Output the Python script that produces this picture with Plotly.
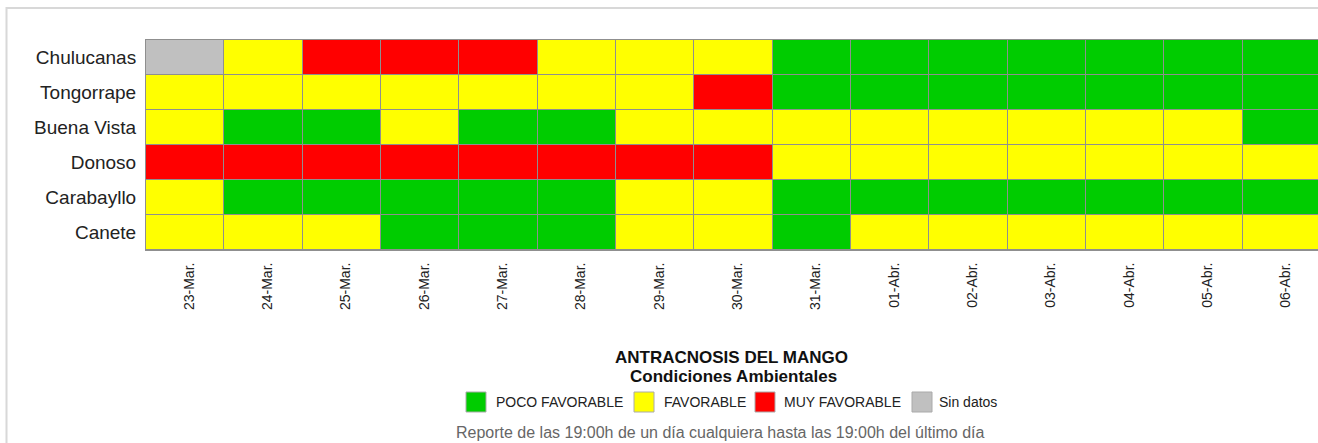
import plotly.graph_objects as go

# ---- data ----
stations = ["Chulucanas", "Tongorrape", "Buena Vista", "Donoso", "Carabayllo", "Canete"]
dates = ["23-Mar.", "24-Mar.", "25-Mar.", "26-Mar.", "27-Mar.", "28-Mar.", "29-Mar.", "30-Mar.",
         "31-Mar.", "01-Abr.", "02-Abr.", "03-Abr.", "04-Abr.", "05-Abr.", "06-Abr."]
# 0 = POCO FAVORABLE, 1 = FAVORABLE, 2 = MUY FAVORABLE, 3 = Sin datos
chulucanas  = [3, 1, 2, 2, 2, 1, 1, 1, 0, 0, 0, 0, 0, 0, 0]
tongorrape  = [1, 1, 1, 1, 1, 1, 1, 2, 0, 0, 0, 0, 0, 0, 0]
buena_vista = [1, 0, 0, 1, 0, 0, 1, 1, 1, 1, 1, 1, 1, 1, 0]
donoso      = [2, 2, 2, 2, 2, 2, 2, 2, 1, 1, 1, 1, 1, 1, 1]
carabayllo  = [1, 0, 0, 0, 0, 0, 1, 1, 0, 0, 0, 0, 0, 0, 0]
canete      = [1, 1, 1, 0, 0, 0, 1, 1, 0, 1, 1, 1, 1, 1, 1]
categories = ["POCO FAVORABLE", "FAVORABLE", "MUY FAVORABLE", "Sin datos"]
cat_colors = ["#00CC00", "#FFFF00", "#FF0000", "#C0C0C0"]
title_lines = ["ANTRACNOSIS DEL MANGO", "Condiciones Ambientales"]
footer = "Reporte de las 19:00h de un día cualquiera hasta las 19:00h del último día"

z = [chulucanas, tongorrape, buena_vista, donoso, carabayllo, canete]

# ---- layout geometry (pixels) ----
W, H = 1318, 443
L, T, B = 146, 40, 193
R = 0
PW = W - L - R
PH = H - T - B

def px(x):
    return (x - L) / PW

def py(y):
    return (H - B - y) / PH

n = len(categories)
cs = []
for i, c in enumerate(cat_colors):
    cs.append([i / n, c])
    cs.append([(i + 1) / n, c])

fig = go.Figure()
fig.add_trace(go.Heatmap(
    z=z,
    x=list(range(len(dates))),
    y=list(range(len(stations))),
    colorscale=cs, zmin=-0.5, zmax=n - 0.5,
    showscale=False, xgap=1, ygap=1, hoverinfo="skip",
))

col_w = 78.33
x_end = -0.5 + PW / col_w

shapes = []
annotations = []
# outer frame
shapes.append(dict(type="rect", xref="paper", yref="paper",
                   x0=px(6.5), x1=px(1330), y0=py(460), y1=py(8),
                   line=dict(color="#d8d8d8", width=2), fillcolor="rgba(0,0,0,0)", layer="below"))

# titles
annotations.append(dict(xref="paper", yref="paper", x=px(731), y=py(357), text="<b>" + title_lines[0] + "</b>",
                        showarrow=False, xanchor="center", yanchor="middle",
                        font=dict(size=17, color="#111", family="Liberation Sans, Arial")))
annotations.append(dict(xref="paper", yref="paper", x=px(733), y=py(376), text="<b>" + title_lines[1] + "</b>",
                        showarrow=False, xanchor="center", yanchor="middle",
                        font=dict(size=17, color="#111", family="Liberation Sans, Arial")))
# legend
box_x = [466, 634, 755, 912]
text_x = [494, 662, 782, 937]
for i, cat in enumerate(categories):
    shapes.append(dict(type="rect", xref="paper", yref="paper",
                       x0=px(box_x[i]), x1=px(box_x[i] + 20), y0=py(412), y1=py(392),
                       fillcolor=cat_colors[i], line=dict(color="#aaaaaa", width=1)))
    annotations.append(dict(xref="paper", yref="paper", x=px(text_x[i]), y=py(402), text=cat,
                            showarrow=False, xanchor="left", yanchor="middle",
                            font=dict(size=14, color="#222", family="Liberation Sans, Arial")))
annotations.append(dict(xref="paper", yref="paper", x=px(720), y=py(432), text=footer,
                        showarrow=False, xanchor="center", yanchor="middle",
                        font=dict(size=16, color="#666", family="Liberation Sans, Arial")))

fig.update_layout(
    width=W, height=H,
    margin=dict(l=L, r=R, t=T, b=B, pad=0),
    paper_bgcolor="white", plot_bgcolor="#8f8f8f",
    showlegend=False,
    font=dict(family="Liberation Sans, Arial", color="#222"),
    shapes=shapes, annotations=annotations,
    xaxis=dict(range=[-0.5, x_end], tickmode="array", tickvals=list(range(len(dates))), ticktext=dates,
               tickangle=-90, ticks="outside", ticklen=6, tickcolor="rgba(0,0,0,0)", ticklabelshift=4,
               tickfont=dict(size=14, color="#222"), showgrid=False, zeroline=False,
               showline=True, linecolor="#8f8f8f", linewidth=1, mirror=True, fixedrange=True),
    yaxis=dict(range=[len(stations) - 0.5, -0.5], tickmode="array", tickvals=list(range(len(stations))),
               ticktext=stations, ticks="outside", ticklen=5, tickcolor="rgba(0,0,0,0)",
               tickfont=dict(size=19, color="#222"), showgrid=False, zeroline=False,
               showline=True, linecolor="#8f8f8f", linewidth=1, mirror=False, fixedrange=True),
)

fig.write_html("out.html", config={"displayModeBar": False},
               post_script="document.body.style.margin='0';document.body.style.overflow='hidden';")
